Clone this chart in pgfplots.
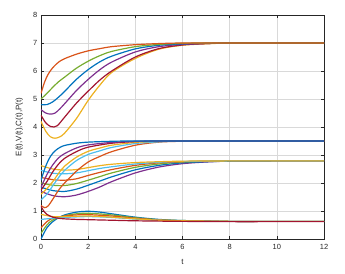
\documentclass[border=0pt]{standalone}
\usepackage{pgfplots}
\pgfplotsset{compat=1.18}
\usepackage{fontspec}
\setmainfont{Liberation Sans}
\definecolor{mblue}{rgb}{0,0.447,0.741}
\definecolor{morange}{rgb}{0.85,0.325,0.098}
\definecolor{myellow}{rgb}{0.929,0.694,0.125}
\definecolor{mpurple}{rgb}{0.494,0.184,0.556}
\definecolor{mgreen}{rgb}{0.466,0.674,0.188}
\definecolor{mlblue}{rgb}{0.301,0.745,0.933}
\definecolor{mred}{rgb}{0.635,0.078,0.184}
\definecolor{axgray}{rgb}{0.15,0.15,0.15}
\begin{document}
\begin{tikzpicture}
\useasboundingbox (0,0) rectangle (345bp,274bp);
\begin{axis}[
  at={(41bp,35bp)}, anchor=south west,
  scale only axis, width=283bp, height=224bp,
  xmin=0, xmax=12, ymin=0, ymax=8,
  xtick={0,2,...,12}, ytick={0,1,...,8},
  grid=major, major grid style={color=black!15, line width=0.6pt},
  tick align=inside, major tick length=3bp,
  axis line style={color=axgray, line width=0.7pt},
  tick style={color=axgray, line width=0.6pt},
  /pgf/number format/assume math mode=true,
  ticklabel style={font=\fontsize{7.5}{8.5}\selectfont, color=axgray},
  xticklabel style={inner sep=0pt, yshift=-5bp},
  yticklabel style={inner sep=0pt, xshift=-3.5bp},
  xlabel={t}, ylabel={E(t),V(t),C(t),P(t)},
  label style={font=\fontsize{8}{9}\selectfont, color=axgray},
  xlabel style={at={(axis description cs:0.5,-0.103)}, anchor=center},
  ylabel style={at={(axis description cs:-0.077,0.5)}, anchor=center},
  every axis plot/.append style={line width=1.2pt, smooth, no markers},
]
% ---- E group ----
\addplot[myellow] coordinates {(0,4.2)(0.2,3.85)(0.4,3.65)(0.6,3.6)(0.8,3.65)(1,3.78)(1.5,4.3)(2,4.95)(2.5,5.5)(3,5.95)(4,6.45)(5,6.78)(6,6.92)(7,6.97)(8,7.0)(10,7.0)(12,7.0)};
\addplot[mred] coordinates {(0,4.42)(0.2,4.15)(0.4,4.02)(0.55,4.0)(0.7,4.05)(1,4.35)(1.5,4.85)(2,5.28)(2.5,5.68)(3,6.0)(4,6.5)(5,6.8)(6,6.93)(7,6.98)(8,7.0)(10,7.0)(12,7.0)};
\addplot[mpurple] coordinates {(0,4.62)(0.2,4.5)(0.4,4.46)(0.6,4.5)(0.8,4.65)(1,4.83)(1.5,5.3)(2,5.7)(2.5,6.05)(3,6.32)(4,6.68)(5,6.87)(6,6.95)(7,6.98)(8,7.0)(10,7.0)(12,7.0)};
\addplot[mblue] coordinates {(0,4.8)(0.25,4.8)(0.5,4.9)(0.75,5.07)(1,5.27)(1.5,5.7)(2,6.05)(2.5,6.33)(3,6.53)(4,6.79)(5,6.92)(6,6.97)(7,6.99)(8,7.0)(10,7.0)(12,7.0)};
\addplot[mgreen] coordinates {(0,5.0)(0.25,5.2)(0.5,5.42)(0.75,5.62)(1,5.78)(1.5,6.1)(2,6.35)(2.5,6.55)(3,6.7)(4,6.87)(5,6.95)(6,6.99)(7,7.0)(10,7.0)(12,7.0)};
\addplot[morange] coordinates {(0,5.2)(0.15,5.6)(0.3,5.88)(0.5,6.12)(0.75,6.32)(1,6.44)(1.5,6.6)(2,6.72)(2.5,6.8)(3,6.87)(4,6.94)(5,6.98)(6,7.0)(8,7.0)(10,7.0)(12,7.0)};
% ---- C group ----
\addplot[mpurple] coordinates {(0,1.7)(0.5,1.55)(1,1.51)(1.5,1.57)(2,1.7)(2.5,1.86)(3,2.05)(4,2.36)(5,2.57)(6,2.69)(7,2.75)(8,2.78)(10,2.79)(12,2.79)};
\addplot[mblue] coordinates {(0,1.85)(0.5,1.73)(1,1.7)(1.5,1.78)(2,1.92)(2.5,2.07)(3,2.22)(4,2.47)(5,2.63)(6,2.72)(7,2.76)(8,2.78)(10,2.79)(12,2.79)};
\addplot[mgreen] coordinates {(0,2.0)(0.5,1.92)(1,1.91)(1.5,1.98)(2,2.1)(2.5,2.23)(3,2.36)(4,2.56)(5,2.68)(6,2.75)(7,2.78)(8,2.79)(10,2.79)(12,2.79)};
\addplot[morange] coordinates {(0,2.2)(0.5,2.12)(1,2.1)(1.5,2.15)(2,2.27)(2.5,2.38)(3,2.48)(4,2.63)(5,2.72)(6,2.76)(7,2.78)(8,2.79)(10,2.79)(12,2.79)};
\addplot[mlblue] coordinates {(0,2.45)(0.5,2.35)(1,2.33)(1.5,2.36)(2,2.44)(2.5,2.52)(3,2.58)(4,2.68)(5,2.74)(6,2.77)(8,2.79)(10,2.79)(12,2.79)};
\addplot[myellow] coordinates {(0,2.62)(0.5,2.5)(1,2.46)(1.5,2.48)(2,2.55)(2.5,2.62)(3,2.67)(4,2.73)(5,2.76)(6,2.78)(8,2.79)(10,2.79)(12,2.79)};
% ---- V group ----
\addplot[morange] coordinates {(0,1.2)(0.15,1.12)(0.3,1.18)(0.5,1.42)(0.75,1.75)(1,2.0)(1.5,2.42)(2,2.75)(2.5,2.95)(3,3.12)(4,3.35)(5,3.46)(6,3.49)(8,3.5)(10,3.5)(12,3.5)};
\addplot[mlblue] coordinates {(0,1.4)(0.25,1.6)(0.5,1.9)(0.75,2.2)(1,2.45)(1.5,2.8)(2,3.02)(2.5,3.15)(3,3.27)(4,3.41)(5,3.47)(6,3.5)(8,3.5)(10,3.5)(12,3.5)};
\addplot[myellow] coordinates {(0,1.6)(0.25,1.8)(0.5,2.05)(0.75,2.35)(1,2.6)(1.5,2.92)(2,3.13)(2.5,3.25)(3,3.35)(4,3.45)(5,3.49)(6,3.5)(8,3.5)(10,3.5)(12,3.5)};
\addplot[mred] coordinates {(0,1.75)(0.25,2.05)(0.5,2.4)(0.75,2.68)(1,2.88)(1.5,3.12)(2,3.28)(3,3.42)(4,3.48)(5,3.5)(8,3.5)(10,3.5)(12,3.5)};
\addplot[mpurple] coordinates {(0,1.85)(0.25,2.3)(0.5,2.65)(0.75,2.9)(1,3.05)(1.5,3.25)(2,3.36)(3,3.45)(4,3.49)(5,3.5)(8,3.5)(10,3.5)(12,3.5)};
\addplot[mblue] coordinates {(0,2.1)(0.2,2.6)(0.4,2.95)(0.6,3.15)(0.8,3.27)(1,3.34)(1.5,3.42)(2,3.46)(3,3.49)(4,3.5)(8,3.5)(10,3.5)(12,3.5)};
% ---- P group ----
\addplot[mblue] coordinates {(0,0)(0.25,0.4)(0.5,0.62)(0.75,0.76)(1,0.86)(1.5,0.96)(2,0.99)(2.5,0.96)(3,0.9)(4,0.78)(5,0.7)(6,0.66)(8,0.63)(10,0.63)(12,0.63)};
\addplot[mgreen] coordinates {(0,0.2)(0.25,0.5)(0.5,0.68)(1,0.83)(1.5,0.9)(2,0.92)(3,0.86)(4,0.76)(5,0.69)(6,0.66)(8,0.63)(10,0.63)(12,0.63)};
\addplot[morange] coordinates {(0,0.4)(0.25,0.62)(0.5,0.74)(1,0.82)(1.5,0.86)(2,0.87)(3,0.82)(4,0.74)(5,0.68)(6,0.65)(8,0.63)(10,0.63)(12,0.63)};
\addplot[mlblue] coordinates {(0,0.7)(0.5,0.74)(1,0.77)(2,0.8)(3,0.77)(4,0.71)(5,0.67)(6,0.64)(8,0.63)(10,0.63)(12,0.63)};
\addplot[myellow] coordinates {(0,0.88)(0.5,0.8)(1,0.8)(2,0.82)(3,0.78)(4,0.72)(5,0.67)(6,0.65)(8,0.63)(10,0.63)(12,0.63)};
\addplot[mred] coordinates {(0,1.17)(0.1,1.02)(0.25,0.88)(0.5,0.78)(0.75,0.74)(1,0.72)(1.5,0.7)(2,0.69)(3,0.67)(4,0.65)(6,0.63)(8,0.62)(10,0.62)(12,0.62)};
\end{axis}
\end{tikzpicture}
\end{document}
